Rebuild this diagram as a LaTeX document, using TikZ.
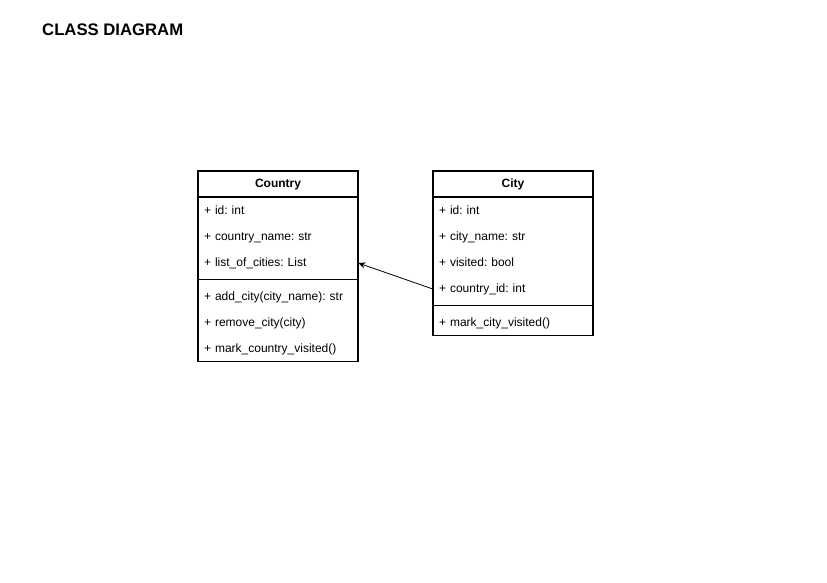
\documentclass[tikz,border=0pt]{standalone}
\usepackage{fontspec}
\setmainfont{Liberation Sans}
\usetikzlibrary{positioning}
\usetikzlibrary{arrows.meta}
\frenchspacing

\begin{document}
\begin{tikzpicture}[x=1pt,y=-1pt,>={Stealth[length=7pt,width=6pt,inset=2pt]},
osztaly/.style={rectangle,draw=black,line width=1.4pt,minimum width=160pt,minimum height=26pt,inner sep=0pt,
 text height=9pt,text depth=3pt,font=\bfseries\fontsize{12}{14}\selectfont},
test/.style={rectangle,draw=black,line width=1.4pt,minimum width=160pt,inner sep=0pt},
sor/.style={rectangle,minimum width=160pt,minimum height=26pt,inner xsep=6pt,inner ysep=0pt,text width=148pt,align=left,
 text height=9pt,text depth=3pt,font=\fontsize{12}{14}\selectfont}]

\useasboundingbox (0,0) rectangle (827,583);

\node[anchor=west,inner sep=0pt,font=\bfseries\fontsize{16.7}{20}\selectfont](title) at (42,30){CLASS DIAGRAM};

% Country
\node[test,minimum height=190pt,anchor=north](country-body) at (278,171){};
\node[osztaly](country) at (278,184){Country};
\node[sor](country-id) at (278,211){+ id: int};
\node[sor](country-name) at (278,237){+ country\_name: str};
\node[sor](country-list) at (278,263){+ list\_of\_cities: List};
\node[sor](country-add) at (278,297){+ add\_city(city\_name): str};
\node[sor](country-remove) at (278,323){+ remove\_city(city)};
\node[sor](country-mark) at (278,349){+ mark\_country\_visited()};
\draw[line width=0.8pt] (country-body.west |- 0,279)--(country-body.east |- 0,279);

% City
\node[test,minimum height=164pt,anchor=north](city-body) at (513,171){};
\node[osztaly](city) at (513,184){City};
\node[sor](city-id) at (513,211){+ id: int};
\node[sor](city-name) at (513,237){+ city\_name: str};
\node[sor](city-visited) at (513,263){+ visited: bool};
\node[sor](city-country) at (513,289){+ country\_id: int};
\node[sor](city-mark) at (513,323){+ mark\_city\_visited()};
\draw[line width=0.8pt] (city-body.west |- 0,305)--(city-body.east |- 0,305);

\draw[->,line width=0.8pt] (city-country.west)--(country-list.east);

\end{tikzpicture}
\end{document}
